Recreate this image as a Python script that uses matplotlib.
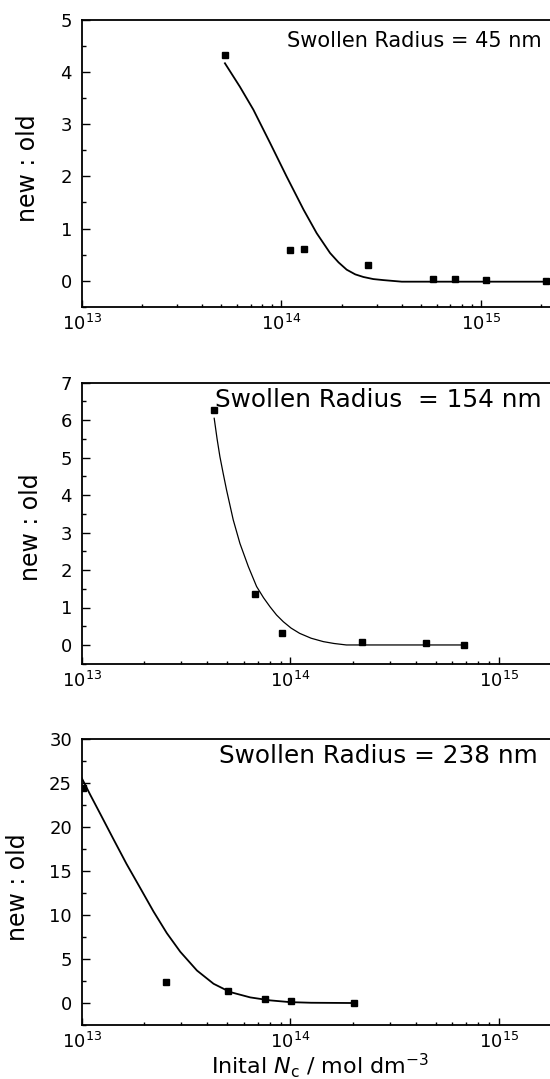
import numpy as np
import matplotlib
matplotlib.use('Agg')
import matplotlib.pyplot as plt
from matplotlib.ticker import MultipleLocator, LogLocator, NullFormatter

# swollen radius 45 nm
r45_x = [5.23e13, 1.10e14, 1.30e14, 2.70e14, 5.71e14, 7.41e14, 1.05e15, 2.11e15]
r45_y = [4.32, 0.59, 0.61, 0.30, 0.03, 0.04, 0.02, 0.00]
r45_fit_x = [5.21e13, 6.19e13, 7.23e13, 8.77e13, 1.06e14, 1.29e14, 1.50e14, 1.75e14,
             1.93e14, 2.12e14, 2.34e14, 2.57e14, 2.88e14, 3.24e14, 4.0e14, 1.0e15, 2.11e15]
r45_fit_y = [4.17, 3.72, 3.28, 2.64, 2.00, 1.36, 0.91, 0.53,
             0.35, 0.21, 0.12, 0.07, 0.03, 0.01, -0.02, -0.02, -0.02]

# swollen radius 154 nm
r154_x = [4.32e13, 6.81e13, 9.12e13, 2.20e14, 4.50e14, 6.79e14]
r154_y = [6.26, 1.36, 0.31, 0.09, 0.05, 0.00]
r154_fit_x = [4.32e13, 4.46e13, 4.60e13, 4.77e13, 4.95e13, 5.33e13, 5.74e13, 6.30e13, 6.90e13,
              7.45e13, 8.0e13, 8.6e13, 9.27e13, 1.01e14, 1.11e14, 1.26e14, 1.44e14,
              1.62e14, 1.86e14, 6.79e14]
r154_fit_y = [6.05, 5.50, 5.03, 4.58, 4.14, 3.34, 2.71, 2.09, 1.56,
              1.26, 1.02, 0.80, 0.62, 0.45, 0.31, 0.18, 0.09,
              0.04, 0.0, 0.0]

# swollen radius 238 nm
r238_x = [1.02e13, 2.53e13, 5.04e13, 7.57e13, 1.01e14, 2.02e14]
r238_y = [24.5, 2.34, 1.32, 0.49, 0.18, 0.00]
r238_fit_x = [1.0e13, 1.10e13, 1.23e13, 1.42e13, 1.64e13, 1.91e13, 2.21e13, 2.56e13,
              2.97e13, 3.57e13, 4.29e13, 5.15e13, 6.43e13, 8.02e13, 1.0e14, 1.26e14, 2.02e14]
r238_fit_y = [25.6, 23.67, 21.48, 18.64, 15.83, 13.07, 10.41, 7.95,
              5.83, 3.70, 2.19, 1.25, 0.64, 0.30, 0.10, 0.03, 0.0]

labels = ['Swollen Radius = 45 nm', 'Swollen Radius  = 154 nm', 'Swollen Radius = 238 nm']

W, H = 550, 1079
LEFT = 81.7
fig = plt.figure(figsize=(W / 100, H / 100), dpi=100)

def make_axes(top, bottom):
    return fig.add_axes([LEFT / W, 1 - bottom / H, (W - LEFT) / W, (bottom - top) / H])

ax1 = make_axes(20, 306.7)
ax2 = make_axes(382.7, 663.7)
ax3 = make_axes(739.3, 1025)

ax1.plot(r45_fit_x, r45_fit_y, color='black', lw=1.3)
ax1.plot(r45_x, r45_y, 's', color='black', ms=5)
ax2.plot(r154_fit_x, r154_fit_y, color='black', lw=0.9)
ax2.plot(r154_x, r154_y, 's', color='black', ms=5)
ax3.plot(r238_fit_x, r238_fit_y, color='black', lw=1.3)
ax3.plot(r238_x, r238_y, 's', color='black', ms=5)

# decade widths in pixels differ slightly between the panels
decades = [199.8, 208.5, 208.5]
ylims = [(-0.5, 5), (-0.5, 7), (-2.5, 30)]
ysteps = [1, 1, 5]
for ax, dec, yl, st in zip([ax1, ax2, ax3], decades, ylims, ysteps):
    ax.set_xscale('log')
    ax.set_xlim(1e13, 10 ** (13 + (W - LEFT) / dec))
    ax.set_ylim(*yl)
    ax.yaxis.set_major_locator(MultipleLocator(st))
    ax.yaxis.set_minor_locator(MultipleLocator(st / 2))
    ax.xaxis.set_major_locator(LogLocator(base=10))
    ax.xaxis.set_minor_locator(LogLocator(base=10, subs=np.arange(2, 10)))
    ax.xaxis.set_minor_formatter(NullFormatter())
    ax.tick_params(which='both', direction='in', top=False, right=False, labelsize=13)
    ax.tick_params(axis='y', which='major', length=6, width=1, pad=7)
    ax.tick_params(axis='y', which='minor', length=3, width=1)
    ax.tick_params(axis='x', which='major', length=5, width=1, pad=5)
    ax.tick_params(axis='x', which='minor', length=2.5, width=1)
    for s in ax.spines.values():
        s.set_linewidth(1.3)
    ax.spines['right'].set_visible(False)
    ax.set_ylabel('new : old', fontsize=17, va='center')

aw = W - LEFT
ax1.yaxis.set_label_coords((27.5 - LEFT) / aw, (306.7 - 168) / 286.7)
ax2.yaxis.set_label_coords((30.7 - LEFT) / aw, (663.7 - 527.5) / 281)
ax3.yaxis.set_label_coords((18.4 - LEFT) / aw, (1025 - 887.5) / 285.7)

ax3.set_xlabel(r'Inital $N_\mathrm{c}$ / mol dm$^{-3}$', fontsize=16)
ax3.xaxis.set_label_coords((320 - LEFT) / aw, (1025 - 1051) / 285.7)

fig.text(542 / W, 1 - 47 / H, labels[0], fontsize=15, ha='right', va='baseline')
fig.text(542 / W, 1 - 406.7 / H, labels[1], fontsize=17.8, ha='right', va='baseline')
fig.text(538 / W, 1 - 763.3 / H, labels[2], fontsize=17.8, ha='right', va='baseline')

fig.savefig('out.png', dpi=100)
